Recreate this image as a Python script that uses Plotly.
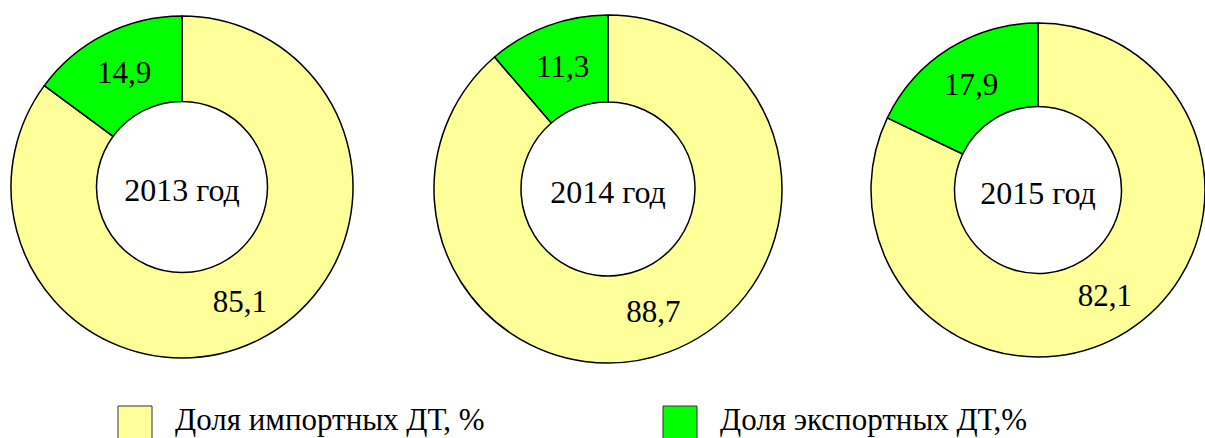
import plotly.graph_objects as go

# ---- data ----
years = ["2013 год", "2014 год", "2015 год"]
import_share = [85.1, 88.7, 82.1]
export_share = [14.9, 11.3, 17.9]
series_labels = ["Доля импортных ДТ, %", "Доля экспортных ДТ,%"]
series_colors = ["#FFFF99", "#00FF00"]

W, H = 1205, 438
FONT = "Liberation Serif, Times New Roman, serif"

# pie frames in pixels (left, top, size)
frames = [(11, 16, 342), (434, 15, 348), (871, 23, 334)]


def fmt(v):
    return f"{v:.1f}".replace(".", ",")


fig = go.Figure()
for i, yr in enumerate(years):
    left, top, size = frames[i]
    vals = [import_share[i], export_share[i]]
    fig.add_trace(go.Pie(
        labels=series_labels,
        values=vals,
        text=[fmt(v) for v in vals],
        textinfo="text",
        textposition="inside",
        insidetextorientation="horizontal",
        textfont=dict(family=FONT, size=31, color="black"),
        hole=0.5,
        sort=False,
        direction="clockwise",
        rotation=0,
        marker=dict(colors=series_colors, line=dict(color="black", width=1.5)),
        domain=dict(x=[left / W, (left + size) / W],
                    y=[1 - (top + size) / H, 1 - top / H]),
        title=dict(text=yr, position="middle center",
                   font=dict(family=FONT, size=32, color="black")),
        showlegend=False,
        hoverinfo="label+value",
    ))

# custom legend with large swatches
legend_x = [118, 663]
shapes, annos = [], []
for j, lab in enumerate(series_labels):
    x0 = legend_x[j]
    shapes.append(dict(type="rect", xref="paper", yref="paper",
                       x0=x0 / W, x1=(x0 + 34) / W,
                       y0=1 - 442 / H, y1=1 - 406 / H,
                       fillcolor=series_colors[j],
                       line=dict(color="#333333", width=1)))
    annos.append(dict(x=(x0 + 55) / W, y=1 - 419 / H, xref="paper", yref="paper",
                      text=lab, showarrow=False, xanchor="left", yanchor="middle",
                      font=dict(family=FONT, size=31, color="black")))

fig.update_layout(
    width=W, height=H,
    margin=dict(l=0, r=0, t=0, b=0),
    paper_bgcolor="white",
    plot_bgcolor="white",
    shapes=shapes,
    annotations=annos,
)

fig.write_html(
    "out.html",
    config={"displayModeBar": False},
    post_script="document.body.style.margin='0';"
                "document.documentElement.style.overflow='hidden';",
)
